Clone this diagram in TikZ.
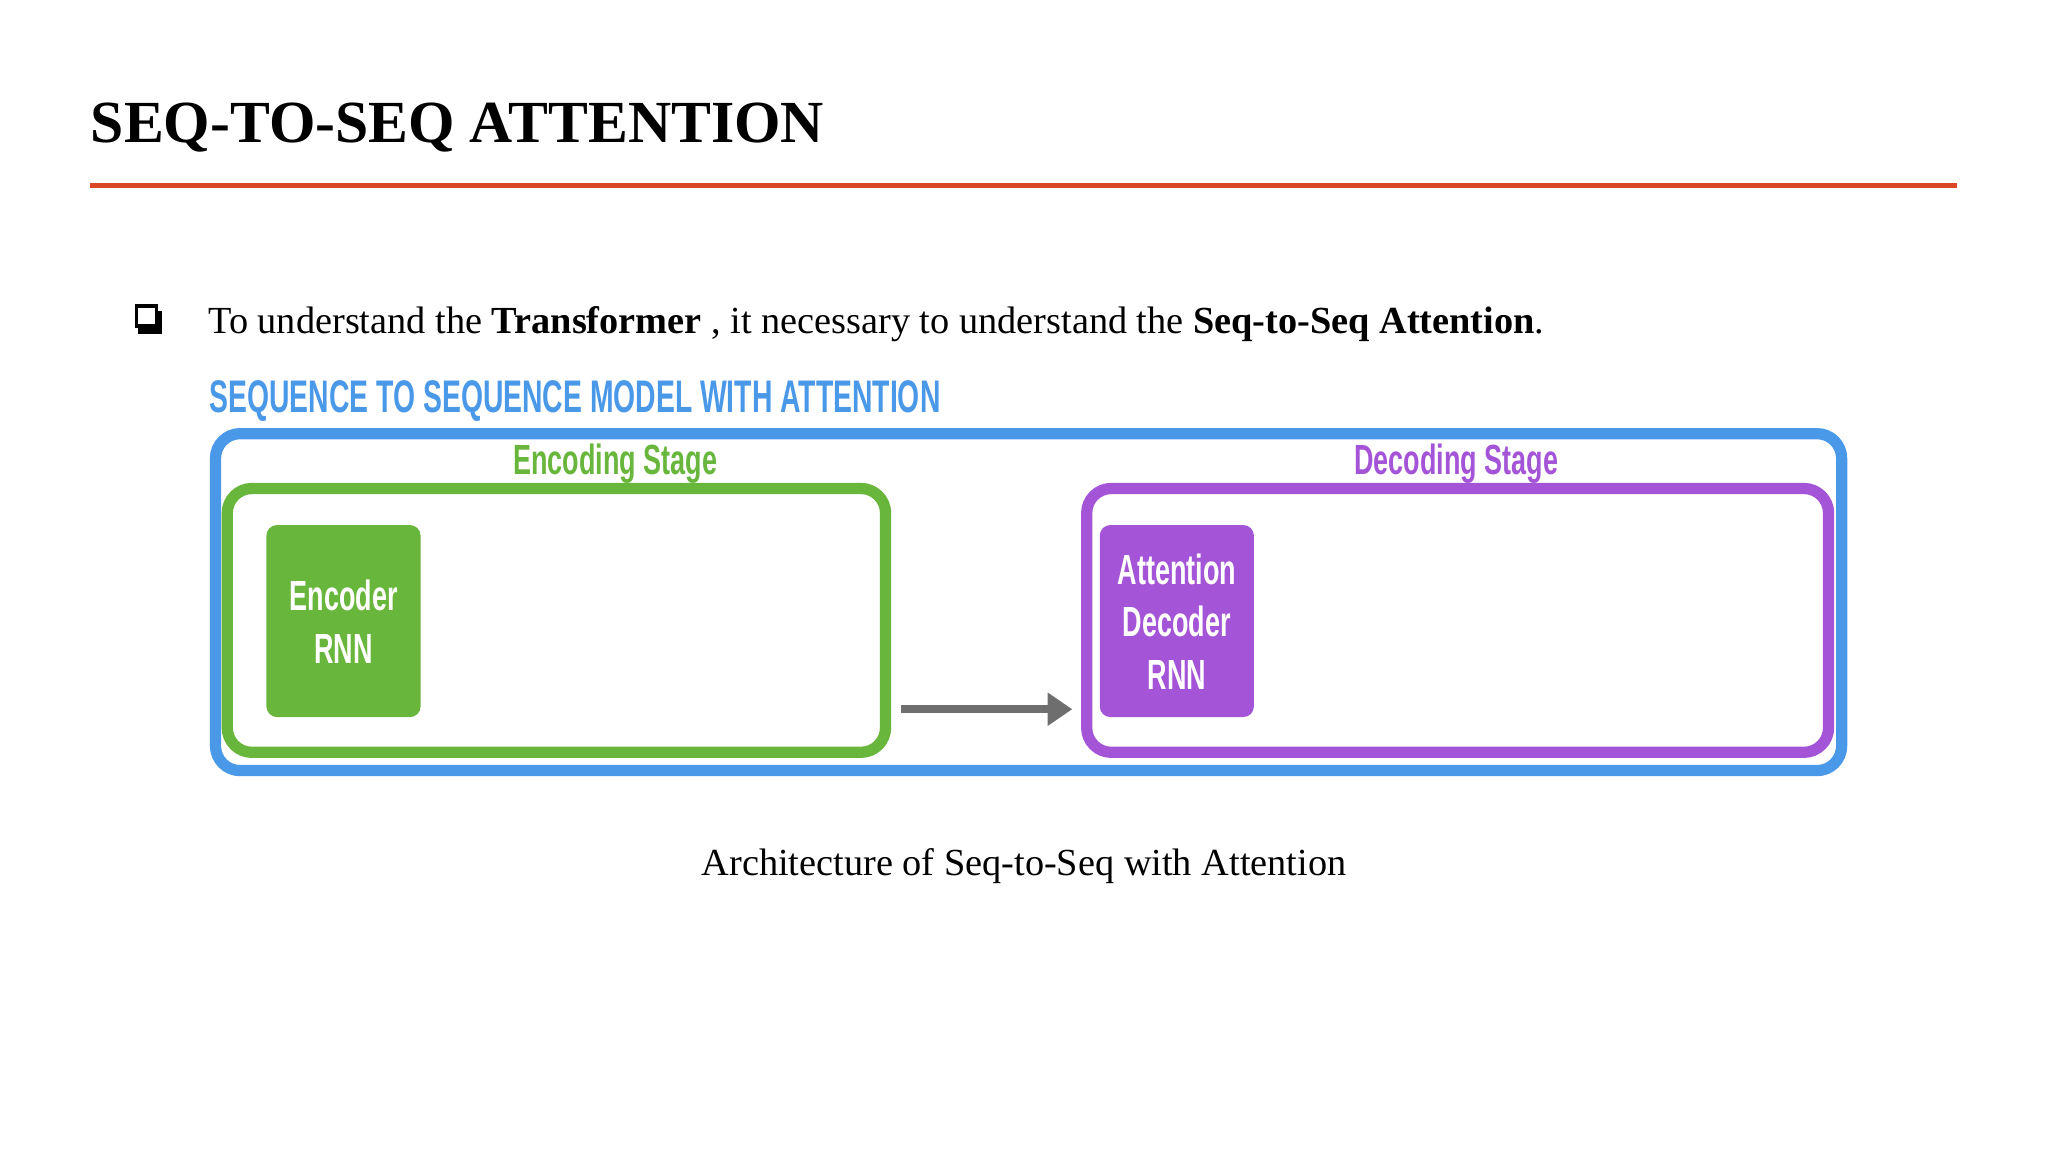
\documentclass[tikz,border=0pt]{standalone}
\usepackage{fontspec}
\setmainfont{Liberation Serif}
\newfontfamily\cond{Liberation Sans}
\usetikzlibrary{arrows.meta}
\definecolor{redline}{RGB}{218,72,40}
\definecolor{bluebox}{RGB}{74,152,232}
\definecolor{greenbox}{RGB}{104,182,60}
\definecolor{purplebox}{RGB}{164,84,214}
\definecolor{arrowgray}{RGB}{110,110,110}
\tikzset{
  frame/.style={draw, line width=3.2pt, rounded corners=7pt},
  rnn/.style={rounded corners=3pt, text=white, align=center, font=\cond\bfseries\fontsize{12}{17}\selectfont},
  lbl/.style={font=\cond\bfseries\fontsize{12}{14}\selectfont},
}
\begin{document}
\begin{tikzpicture}[x=0.01306cm,y=-0.01306cm]
\useasboundingbox (0,0) rectangle (1568,882);
\node[anchor=base west, inner sep=0, font=\bfseries\fontsize{17}{20}\selectfont] (title) at (69,109) {SEQ-TO-SEQ ATTENTION};
\draw[redline, line width=1.6pt] (69,142) coordinate (r1) -- (1498,142) coordinate (r2);
\fill (106,238) rectangle (124,256);
\node[draw, fill=white, line width=1pt, minimum size=0.2cm, inner sep=0] (bul) at (112,242) {};
\node[anchor=base west, inner sep=0, font=\fontsize{10.9}{14}\selectfont] (txt) at (159,255) {To understand the \textbf{Transformer} , it necessary to understand the \textbf{Seq-to-Seq Attention}.};
\node[anchor=base west, inner sep=0, text=bluebox, font=\cond\bfseries\fontsize{13}{16}\selectfont] (hdr) at (160,316) {\scalebox{0.62}[1]{SEQUENCE TO SEQUENCE MODEL WITH ATTENTION}};
\draw[frame, bluebox] (165,332) rectangle (1410,590);
\draw[frame, greenbox] (174,374) rectangle (678,576);
\draw[frame, purplebox] (832,374) rectangle (1400,576);
\node[lbl, text=greenbox] (enc) at (471,355) {\scalebox{0.64}[1]{Encoding Stage}};
\node[lbl, text=purplebox] (dec) at (1115,355) {\scalebox{0.64}[1]{Decoding Stage}};
\fill[greenbox, rounded corners=3pt] (204,402) rectangle (322,549);
\node[rnn] (ernn) at (263,476) {\scalebox{0.64}[1]{Encoder}\\[-2pt]\scalebox{0.64}[1]{RNN}};
\fill[purplebox, rounded corners=3pt] (842,402) rectangle (960,549);
\node[rnn] (drnn) at (901,476) {\scalebox{0.64}[1]{Attention}\\[-2pt]\scalebox{0.64}[1]{Decoder}\\[-2pt]\scalebox{0.64}[1]{RNN}};
\coordinate (a1) at (690,543); \coordinate (a2) at (821,543);
\draw[arrowgray, line width=2.2pt, -{Triangle[length=7pt,width=9pt]}] (a1) -- (a2);
\node[font=\fontsize{10.9}{14}\selectfont] (cap) at (784,663) {Architecture of Seq-to-Seq with Attention};
\end{tikzpicture}
\end{document}
